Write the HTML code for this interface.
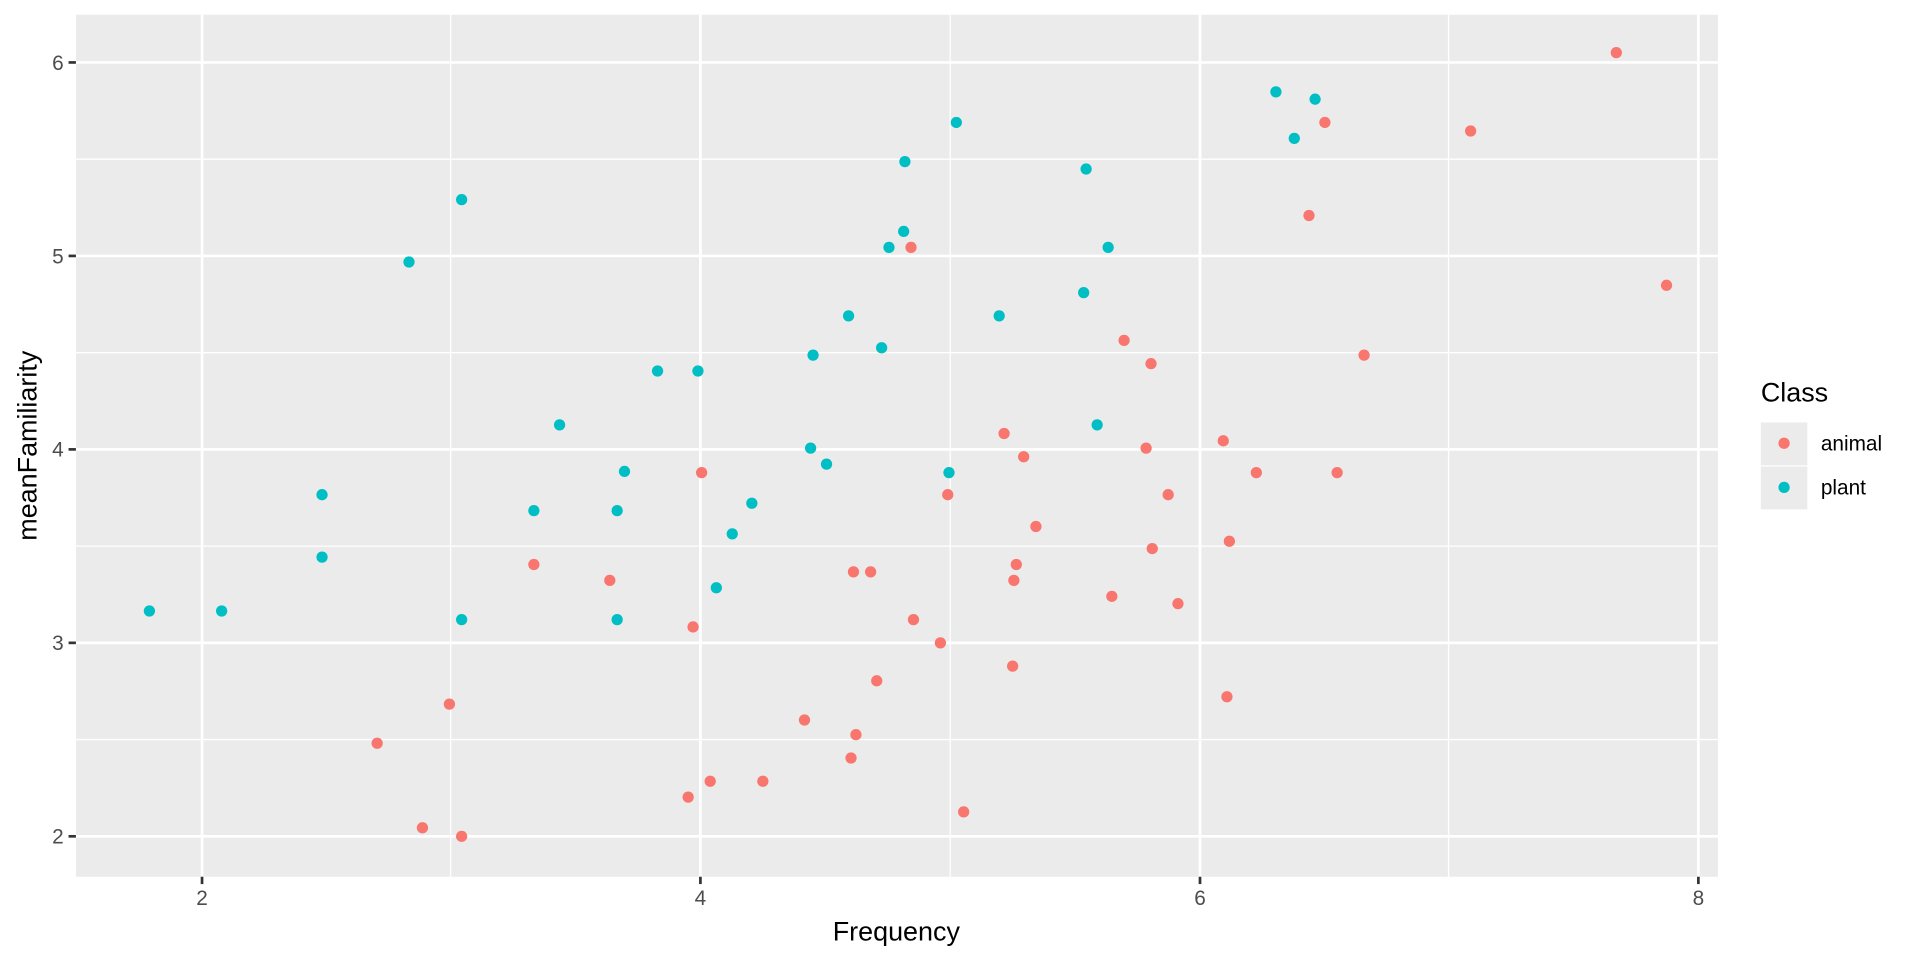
<!DOCTYPE html>
<html><head><meta charset="utf-8"><style>body{margin:0;background:#fff}svg{display:block}</style></head><body>
<svg width="1920" height="960" viewBox="0 0 1568 784" xmlns="http://www.w3.org/2000/svg" font-family="Liberation Sans, sans-serif">
<rect x="62" y="12" width="1341" height="704" fill="#EBEBEB"/>
<g stroke="#fff" stroke-width="1.1">
<line x1="368" x2="368" y1="12" y2="716"/><line x1="776" x2="776" y1="12" y2="716"/><line x1="1183" x2="1183" y1="12" y2="716"/>
<line x1="62" x2="1403" y1="130" y2="130"/><line x1="62" x2="1403" y1="288" y2="288"/><line x1="62" x2="1403" y1="446" y2="446"/><line x1="62" x2="1403" y1="604" y2="604"/>
</g>
<g stroke="#fff" stroke-width="2.2">
<line x1="165" x2="165" y1="12" y2="716"/><line x1="572" x2="572" y1="12" y2="716"/><line x1="980" x2="980" y1="12" y2="716"/><line x1="1387" x2="1387" y1="12" y2="716"/>
<line x1="62" x2="1403" y1="51" y2="51"/><line x1="62" x2="1403" y1="209" y2="209"/><line x1="62" x2="1403" y1="367" y2="367"/><line x1="62" x2="1403" y1="525" y2="525"/><line x1="62" x2="1403" y1="683" y2="683"/>
</g>
<g stroke="#333" stroke-width="2.2">
<line x1="165" x2="165" y1="716" y2="722"/><line x1="572" x2="572" y1="716" y2="722"/><line x1="980" x2="980" y1="716" y2="722"/><line x1="1387" x2="1387" y1="716" y2="722"/>
<line x1="56" x2="62" y1="51" y2="51"/><line x1="56" x2="62" y1="209" y2="209"/><line x1="56" x2="62" y1="367" y2="367"/><line x1="56" x2="62" y1="525" y2="525"/><line x1="56" x2="62" y1="683" y2="683"/>
</g>
<g fill="#4D4D4D" font-size="17" text-anchor="end">
<text x="52" y="57">6</text><text x="52" y="215">5</text><text x="52" y="373">4</text><text x="52" y="531">3</text><text x="52" y="689">2</text>
</g>
<g fill="#4D4D4D" font-size="17" text-anchor="middle">
<text x="165" y="739">2</text><text x="572" y="739">4</text><text x="980" y="739">6</text><text x="1387" y="739">8</text>
</g>
<text x="732" y="768" font-size="22" text-anchor="middle">Frequency</text>
<text transform="translate(30,364) rotate(-90)" font-size="22" text-anchor="middle">meanFamiliarity</text>
<g fill="#F8766D">
<circle cx="1320" cy="43" r="4.6"/><circle cx="1082" cy="100" r="4.6"/><circle cx="1201" cy="107" r="4.6"/><circle cx="1069" cy="176" r="4.6"/><circle cx="1361" cy="233" r="4.6"/><circle cx="744" cy="202" r="4.6"/><circle cx="1114" cy="290" r="4.6"/><circle cx="918" cy="278" r="4.6"/><circle cx="940" cy="297" r="4.6"/><circle cx="820" cy="354" r="4.6"/><circle cx="936" cy="366" r="4.6"/><circle cx="999" cy="360" r="4.6"/><circle cx="1026" cy="386" r="4.6"/><circle cx="836" cy="373" r="4.6"/><circle cx="573" cy="386" r="4.6"/><circle cx="1092" cy="386" r="4.6"/><circle cx="774" cy="404" r="4.6"/><circle cx="954" cy="404" r="4.6"/><circle cx="1004" cy="442" r="4.6"/><circle cx="846" cy="430" r="4.6"/><circle cx="941" cy="448" r="4.6"/><circle cx="436" cy="461" r="4.6"/><circle cx="498" cy="474" r="4.6"/><circle cx="697" cy="467" r="4.6"/><circle cx="711" cy="467" r="4.6"/><circle cx="830" cy="461" r="4.6"/><circle cx="828" cy="474" r="4.6"/><circle cx="908" cy="487" r="4.6"/><circle cx="962" cy="493" r="4.6"/><circle cx="566" cy="512" r="4.6"/><circle cx="746" cy="506" r="4.6"/><circle cx="768" cy="525" r="4.6"/><circle cx="716" cy="556" r="4.6"/><circle cx="827" cy="544" r="4.6"/><circle cx="367" cy="575" r="4.6"/><circle cx="308" cy="607" r="4.6"/><circle cx="657" cy="588" r="4.6"/><circle cx="699" cy="600" r="4.6"/><circle cx="695" cy="619" r="4.6"/><circle cx="1002" cy="569" r="4.6"/><circle cx="580" cy="638" r="4.6"/><circle cx="623" cy="638" r="4.6"/><circle cx="562" cy="651" r="4.6"/><circle cx="787" cy="663" r="4.6"/><circle cx="345" cy="676" r="4.6"/><circle cx="377" cy="683" r="4.6"/>
</g>
<g fill="#00BFC4">
<circle cx="1042" cy="75" r="4.6"/><circle cx="1074" cy="81" r="4.6"/><circle cx="1057" cy="113" r="4.6"/><circle cx="781" cy="100" r="4.6"/><circle cx="739" cy="132" r="4.6"/><circle cx="887" cy="138" r="4.6"/><circle cx="377" cy="163" r="4.6"/><circle cx="738" cy="189" r="4.6"/><circle cx="726" cy="202" r="4.6"/><circle cx="905" cy="202" r="4.6"/><circle cx="334" cy="214" r="4.6"/><circle cx="693" cy="258" r="4.6"/><circle cx="816" cy="258" r="4.6"/><circle cx="885" cy="239" r="4.6"/><circle cx="537" cy="303" r="4.6"/><circle cx="570" cy="303" r="4.6"/><circle cx="664" cy="290" r="4.6"/><circle cx="720" cy="284" r="4.6"/><circle cx="457" cy="347" r="4.6"/><circle cx="896" cy="347" r="4.6"/><circle cx="662" cy="366" r="4.6"/><circle cx="675" cy="379" r="4.6"/><circle cx="775" cy="386" r="4.6"/><circle cx="510" cy="385" r="4.6"/><circle cx="263" cy="404" r="4.6"/><circle cx="436" cy="417" r="4.6"/><circle cx="504" cy="417" r="4.6"/><circle cx="614" cy="411" r="4.6"/><circle cx="598" cy="436" r="4.6"/><circle cx="263" cy="455" r="4.6"/><circle cx="585" cy="480" r="4.6"/><circle cx="122" cy="499" r="4.6"/><circle cx="181" cy="499" r="4.6"/><circle cx="377" cy="506" r="4.6"/><circle cx="504" cy="506" r="4.6"/>
</g>
<text x="1438" y="328" font-size="22">Class</text>
<rect x="1438" y="345" width="38" height="35" fill="#EBEBEB"/>
<rect x="1438" y="381" width="38" height="35" fill="#EBEBEB"/>
<circle cx="1457" cy="362" r="4.6" fill="#F8766D"/>
<circle cx="1457" cy="398" r="4.6" fill="#00BFC4"/>
<text x="1487" y="368" font-size="17">animal</text>
<text x="1487" y="404" font-size="17">plant</text>
</svg>
</body></html>
